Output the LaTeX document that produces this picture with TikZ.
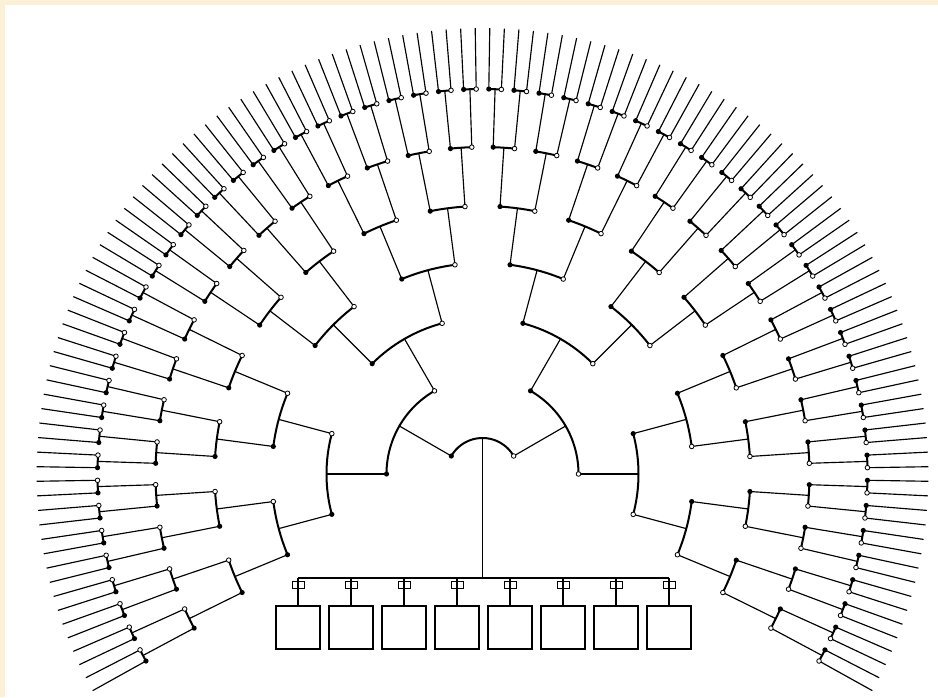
\documentclass[tikz,border=0pt]{standalone}
\usetikzlibrary{calc}
\definecolor{cream}{RGB}{252,240,214}
\def\rad#1{\ifcase\numexpr#1\relax 0\or 36\or 96\or 156\or 211\or 268\or 327\or 385\or 446\fi}
\begin{document}
\begin{tikzpicture}[x=1pt,y=1pt,
  radial/.style={line width=1.15pt},
  pairarc/.style={line width=2pt},
  male/.style={circle,fill=black,inner sep=0pt,minimum size=5.2pt},
  female/.style={circle,draw=black,fill=white,line width=0.8pt,inner sep=0pt,minimum size=4.6pt},
  linkbox/.style={draw=black,line width=0.8pt,minimum width=12pt,minimum height=7pt,inner sep=0pt},
  childbox/.style={draw=black,line width=1.1pt,minimum width=44pt,minimum height=43pt,inner sep=0pt},
  busline/.style={line width=1.1pt}]
\fill[cream] (0,0) rectangle (938,697);
\fill[white] (5,0) rectangle (938,692);
\useasboundingbox (0,0) rectangle (938,697);
\coordinate (C) at (482.5,223);
% positions of persons
\foreach \n in {1,...,7}{
  \pgfmathtruncatemacro\cnt{2^\n-1}
  \pgfmathsetmacro\step{240/(2^\n)}
  \edef\r{\rad{\n}}
  \foreach \k in {0,...,\cnt}{
    \pgfmathsetmacro\a{210-(\k+0.5)*\step}
    \coordinate (p\n-\k) at ($(C)+(\a:\r)$);
  }
}
% root
\coordinate (root) at ($(C)+(90:36)$);
\draw[pairarc] (p1-0) arc[start angle=150,end angle=30,radius=36];
% generations 1..6 : radial line + arc to parents
\foreach \n in {1,...,6}{
  \pgfmathtruncatemacro\cnt{2^\n-1}
  \pgfmathtruncatemacro\m{\n+1}
  \pgfmathsetmacro\step{240/(2^\n)}
  \edef\R{\rad{\m}}
  \foreach \k in {0,...,\cnt}{
    \pgfmathsetmacro\a{210-(\k+0.5)*\step}
    \pgfmathsetmacro\sa{\a+\step/4}
    \pgfmathsetmacro\ea{\a-\step/4}
    \pgfmathtruncatemacro\ka{2*\k}
    \coordinate (m\n-\k) at ($(C)+(\a:\R)$);
    \draw[radial] (p\n-\k) -- (m\n-\k);
    \draw[pairarc] (p\m-\ka) arc[start angle=\sa,end angle=\ea,radius=\R];
  }
}
% outermost lines
\foreach \k in {0,...,127}{
  \pgfmathsetmacro\a{210-(\k+0.5)*1.875}
  \coordinate (e\k) at ($(C)+(\a:446)$);
  \draw[radial] (p7-\k) -- (e\k);
}
% dots
\foreach \n in {1,...,7}{
  \pgfmathtruncatemacro\cnt{2^\n-1}
  \foreach \k in {0,...,\cnt}{
    \pgfmathtruncatemacro\odd{mod(\k,2)}
    \ifnum\odd=0
      \node[male] (d\n-\k) at (p\n-\k) {};
    \else
      \node[female] (d\n-\k) at (p\n-\k) {};
    \fi
  }
}
% descendants
\coordinate (busL) at (298,119);
\coordinate (busR) at (669,119);
\draw[busline] (root) -- (root |- busL);
\draw[busline] (busL) -- (busR);
\foreach \i in {0,...,7}{
  \pgfmathsetmacro\x{298+53*\i}
  \coordinate (b\i) at (\x,119);
  \node[linkbox] (l\i) at (\x,112) {};
  \node[childbox] (c\i) at (\x,69.5) {};
  \draw[busline] (b\i) -- (l\i.north);
  \draw[busline] (l\i.north) -- (l\i.south);
  \draw[busline] (l\i.south) -- (c\i.north);
}
\end{tikzpicture}
\end{document}
